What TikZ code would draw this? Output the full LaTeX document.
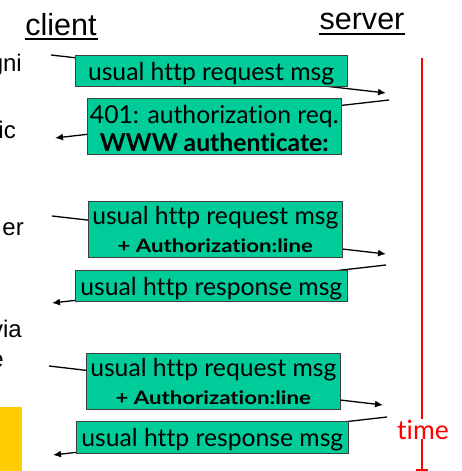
\documentclass[tikz,border=0pt]{standalone}
\usepackage{fontspec}
\usepackage{graphicx}
\setmainfont{Liberation Sans}
\newfontfamily\boxfont[Ligatures=NoCommon]{Lato}
\newfontfamily\smallboldfont[Ligatures=NoCommon,FakeStretch=1.2,BoldFont={Lato Bold}]{Lato}
\newcommand{\down}[1]{\raisebox{-3pt}[\height][\depth]{#1}}
\newcommand{\authline}{{\smallboldfont\bfseries\fontsize{18.5}{22}\selectfont + Authorization:line}}
\definecolor{boxgreen}{HTML}{00CC99}
\definecolor{noteyellow}{HTML}{FFCC00}
\definecolor{timered}{HTML}{FF0000}
\usetikzlibrary{arrows.meta}
\tikzset{
  x=1pt,y=-1pt,
  msgbox/.style={draw=black!75,fill=boxgreen,line width=1pt,inner sep=0pt,outer sep=0pt,text=black,align=center,font=\boxfont\fontsize{24.7}{28}\selectfont},
  msgline/.style={draw=black,line width=1.3pt},
  arrowline/.style={msgline,-{Latex[length=8pt,width=7pt]}},
  title/.style={inner sep=0pt,font=\fontsize{30.5}{34}\selectfont},
  sidetext/.style={inner sep=0pt,anchor=base east,font=\fontsize{24}{28}\selectfont},
  timeline/.style={draw=timered,line width=1.3pt},
  timelabel/.style={text=timered,inner sep=0pt,font=\boxfont\fontsize{26.5}{30}\selectfont},
}
\begin{document}
\begin{tikzpicture}
\useasboundingbox (0,0) rectangle (461,471);
\fill[white] (0,0) rectangle (461,471);
% side note
\fill[noteyellow] (0,407) rectangle (22,471);
\node[sidetext] (t1) at (22,71) {gni};
\node[sidetext] (t2) at (16,138) {ic};
\node[sidetext] (t3) at (24,235) {er};
\node[sidetext] (t4) at (22,337) {via};
\node[sidetext] (t5) at (4,367) {e};
% titles
\node[title,anchor=base] (client) at (61,35) {client};
\draw[line width=2.2pt] (25,39) -- (98,39);
\node[title,anchor=base] (server) at (362,29) {server};
\draw[line width=2.2pt] (319,34) -- (405,34);
% connector ends
\coordinate (a1) at (51,55);  \coordinate (b1) at (386,93);
\coordinate (a2) at (389,100);\coordinate (b2) at (55,138);
\coordinate (a3) at (52,216); \coordinate (b3) at (386,254);
\coordinate (a4) at (386,265);\coordinate (b4) at (52,303);
\coordinate (a5) at (49,366); \coordinate (b5) at (383,405);
\coordinate (a6) at (387,417);\coordinate (b6) at (53,455);
\draw[arrowline] (a1) -- (b1);
\draw[arrowline] (a2) -- (b2);
\draw[arrowline] (a3) -- (b3);
\draw[arrowline] (a4) -- (b4);
\draw[arrowline] (a5) -- (b5);
\draw[arrowline] (a6) -- (b6);
% message boxes
\node[msgbox,minimum width=272pt,minimum height=31pt] (m1) at (211,70.5) {\down{usual http request msg}};
\node[msgbox,minimum width=253.5pt,minimum height=56pt] (m2) at (214.25,126) {\down{401: authorization req.}\\\down{\bfseries WWW authenticate:}};
\node[msgbox,minimum width=254.5pt,minimum height=56pt] (m3) at (215.25,229) {usual http request msg\\\authline};
\node[msgbox,minimum width=272.5pt,minimum height=31pt] (m4) at (211.25,285.5) {\down{usual http response msg}};
\node[msgbox,minimum width=253.5pt,minimum height=56pt] (m5) at (213.25,381) {usual http request msg\\\authline};
\node[msgbox,minimum width=272.5pt,minimum height=32pt] (m6) at (212.25,437) {\down{usual http response msg}};
% time axis
\coordinate (tt) at (422,58);
\coordinate (tb) at (422,470);
\node[timelabel,anchor=base] (time) at (423,439) {time};
\draw[timeline] (tt) -- (time.north -| tt);
\draw[timeline] (time.south -| tt) -- (tb);
\draw[timeline] (416,470) -- (428,470);
\end{tikzpicture}
\end{document}
